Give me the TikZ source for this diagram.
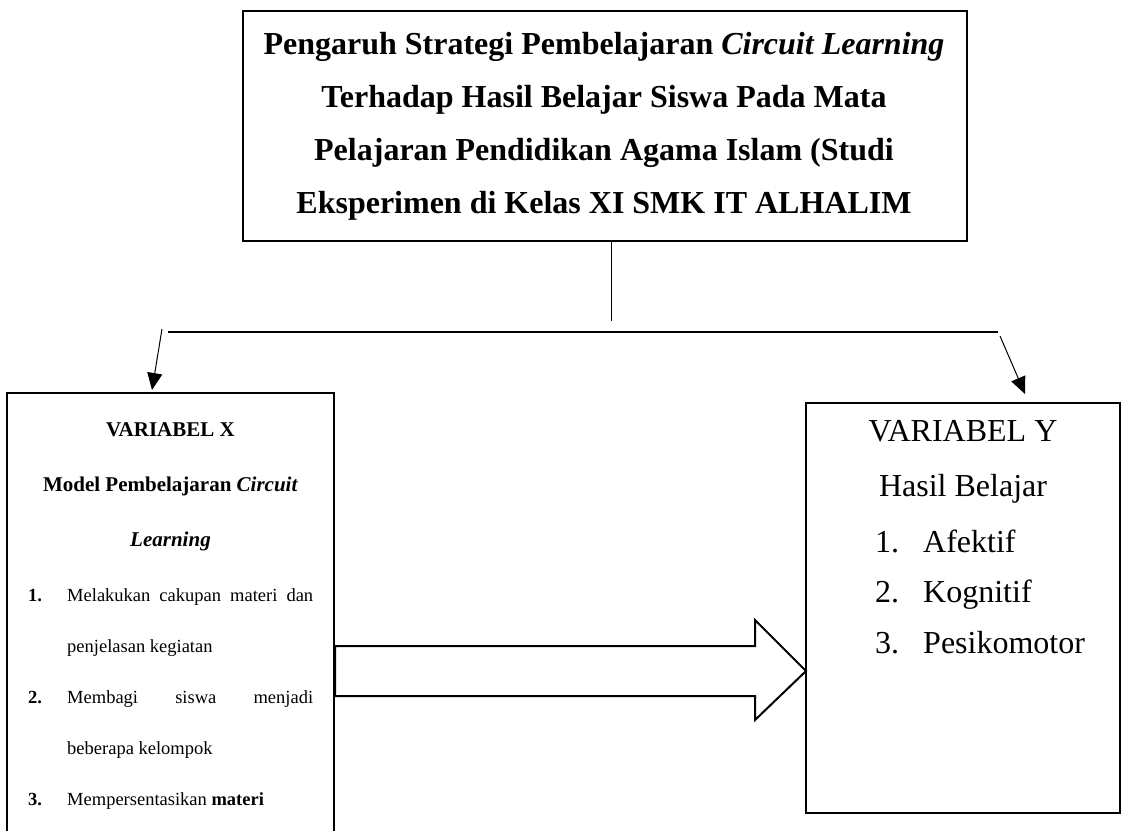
\documentclass[tikz,border=0pt]{standalone}
\usepackage{fontspec}
\setmainfont{Liberation Serif}
\usetikzlibrary{arrows.meta}

\begin{document}
\begin{tikzpicture}
[x=1pt,y=-1pt,
  boxDecorate/.style={draw,line width=2pt,inner sep=0pt},
  lineDecorate/.style={line width=1pt},
  arrowDecorate/.style={line width=1pt,-{Triangle[length=17pt,width=15pt]}},
  textDecorate/.style={inner sep=0pt,align=center}]
\useasboundingbox (0,0) rectangle (1121,830);
\clip (0,0) rectangle (1121,830);
%% boxes
\node (judul) at (605,126) [boxDecorate,minimum width=724pt,minimum height=230pt] {};
\node (kotakx) at (170.5,620) [boxDecorate,minimum width=327pt,minimum height=454pt] {};
\node (kotaky) at (963,608) [boxDecorate,minimum width=314pt,minimum height=410pt] {};
%% texts
\node (teksjudul) at (604,126) [textDecorate,font=\bfseries\fontsize{32}{53}\selectfont]
  {Pengaruh Strategi Pembelajaran \textit{Circuit Learning}\\
   Terhadap Hasil Belajar Siswa Pada Mata\\
   Pelajaran Pendidikan Agama Islam (Studi\\
   Eksperimen di Kelas XI SMK IT ALHALIM};
\node (judulx) at (170.5,487) [textDecorate,font=\bfseries\fontsize{21}{55}\selectfont]
  {VARIABEL X\\Model Pembelajaran \textit{Circuit}\\\textit{Learning}};
\node (daftarx) at (28,588) [anchor=north west,inner sep=0pt,text width=285pt,
  align=justify,font=\fontsize{18.5}{51}\selectfont]
  {\hangindent=39pt\hangafter=1\noindent\makebox[39pt][l]{\textbf{1.}}Melakukan cakupan materi dan\linebreak penjelasan kegiatan\par
   \hangindent=39pt\hangafter=1\noindent\makebox[39pt][l]{\textbf{2.}}Membagi siswa menjadi\linebreak beberapa kelompok\par
   \noindent\makebox[39pt][l]{\textbf{3.}}Mempersentasikan \textbf{materi}\par};
\node (juduly) at (963,462) [textDecorate,font=\fontsize{32}{55}\selectfont]
  {VARIABEL Y\\Hasil Belajar};
\foreach \n/\teks/\y in {1/Afektif/552, 2/Kognitif/602, 3/Pesikomotor/653}
{
  \node (noy\n) at (875,\y) [anchor=base west,inner sep=0pt,font=\fontsize{32}{55}\selectfont] {\n.};
  \node (itemy\n) at (923,\y) [anchor=base west,inner sep=0pt,font=\fontsize{32}{55}\selectfont] {\teks};
}
%% connectors
\coordinate (pangkal) at (611,321);
\coordinate (cabangkiri) at (168,332);
\coordinate (cabangkanan) at (998,332);
\coordinate (kiriatas) at (162,329);
\coordinate (kiribawah) at (152,390);
\coordinate (kananatas) at (1000,336);
\coordinate (kananbawah) at (1025,394);
\draw[lineDecorate] (judul.south -| pangkal) -- (pangkal);
\draw[line width=1.5pt] (cabangkiri) -- (cabangkanan);
\draw[arrowDecorate] (kiriatas) -- (kiribawah);
\draw[arrowDecorate] (kananatas) -- (kananbawah);
%% block arrow
\draw[line width=2pt] (335,671) ++(0,-25) -- ++(420,0) -- ++(0,-26) -- (806,671)
  -- ++(-51,49) -- ++(0,-24) -- ++(-420,0) -- cycle;
\end{tikzpicture}
\end{document}
